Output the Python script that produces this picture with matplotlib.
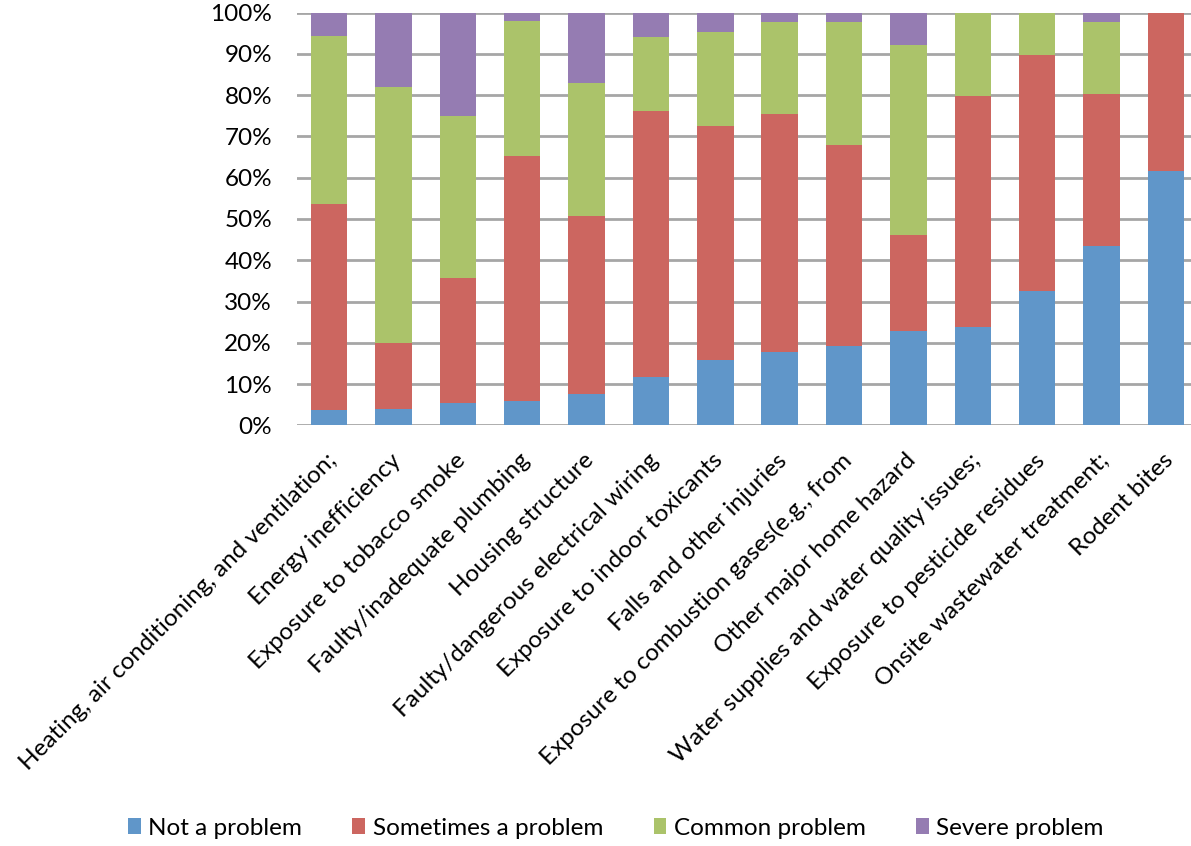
import numpy as np
import matplotlib
matplotlib.use("Agg")
import matplotlib.pyplot as plt
import matplotlib.transforms as mtransforms
from matplotlib.patches import Patch

categories = [
    "Heating, air conditioning, and ventilation;",
    "Energy inefficiency",
    "Exposure to tobacco smoke",
    "Faulty/inadequate plumbing",
    "Housing structure",
    "Faulty/dangerous electrical wiring",
    "Exposure to indoor toxicants",
    "Falls and other injuries",
    "Exposure to combustion gases(e.g., from",
    "Other major home hazard",
    "Water supplies and water quality issues;",
    "Exposure to pesticide residues",
    "Onsite wastewater treatment;",
    "Rodent bites",
]
# percentages per series
not_a_problem = [3.6, 3.9, 5.3, 5.8, 7.5, 11.6, 15.8, 17.7, 19.1, 22.9, 23.9, 32.5, 43.5, 61.7]
sometimes = [50.1, 16.0, 30.4, 59.5, 43.3, 64.6, 56.8, 57.7, 48.8, 23.1, 56.0, 57.2, 36.9, 38.3]
common = [40.7, 62.0, 39.3, 32.6, 32.1, 17.8, 22.8, 22.3, 29.8, 46.2, 20.1, 10.3, 17.3, 0.0]
severe = [5.6, 18.1, 25.0, 2.1, 17.1, 6.0, 4.6, 2.3, 2.3, 7.8, 0.0, 0.0, 2.3, 0.0]

series_names = ["Not a problem", "Sometimes a problem", "Common problem", "Severe problem"]
colors = ["#6096c9", "#cc6660", "#abc36a", "#957cb2"]

plt.rcParams['font.family'] = ['Lato', 'DejaVu Sans']
fs = 17.5

fig = plt.figure(figsize=(11.91, 8.46), dpi=100)
ax = fig.add_axes([297 / 1191, 0.4973, (1198 - 297) / 1191, 0.4877])

x = np.arange(len(categories))
bottom = np.zeros(len(categories))
for vals, col in zip([not_a_problem, sometimes, common, severe], colors):
    vals = np.array(vals)
    ax.bar(x, vals, width=0.567, bottom=bottom, color=col, zorder=3)
    bottom += vals

ax.set_xlim(-0.5, len(categories) - 0.5)
ax.set_ylim(0, 100)
ax.set_yticks(np.arange(0, 101, 10))
ax.set_yticklabels(["%d%%" % v for v in range(0, 101, 10)], fontsize=fs)
ax.yaxis.grid(True, color="#a6a6a6", linewidth=2, zorder=0)
ax.set_axisbelow(True)
for s in ax.spines.values():
    s.set_visible(False)
ax.tick_params(axis="y", length=0, pad=18)
ax.tick_params(axis="x", length=0, pad=23)
ax.set_xticks(x)
ax.set_xticklabels(categories, rotation=45, ha="right", va="center",
                   rotation_mode="anchor", fontsize=fs)
shift = mtransforms.ScaledTranslation(3 / 72, 0, fig.dpi_scale_trans)
for lab in ax.get_xticklabels():
    lab.set_transform(lab.get_transform() + shift)

handles = [Patch(facecolor=c, label=n) for c, n in zip(colors, series_names)]
fig.legend(handles=handles, loc="center", bbox_to_anchor=(0.517, 0.021), ncol=4,
           frameon=False, fontsize=fs, handlelength=0.53, handleheight=0.6,
           handletextpad=0.3, columnspacing=2.08)

fig.savefig("out.png", dpi=100)
